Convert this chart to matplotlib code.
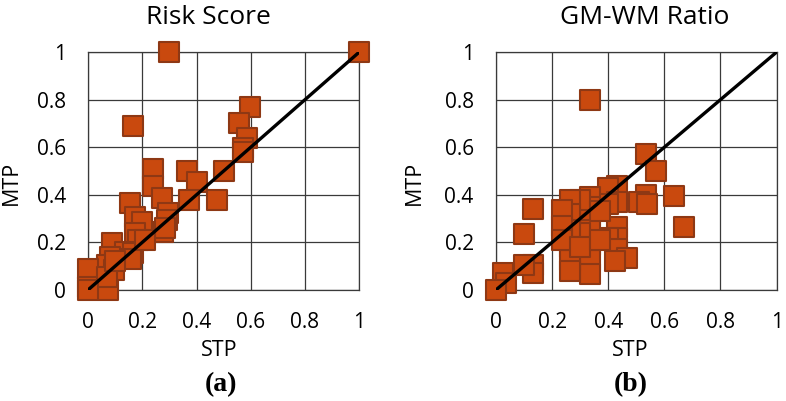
import matplotlib
matplotlib.use('Agg')
import matplotlib.pyplot as plt

# Risk Score (panel a)
risk_stp = [1.0, 0.30, 0.167, 0.598, 0.555, 0.585, 0.573, 0.57, 0.50, 0.364, 0.40, 0.374,
            0.475, 0.241, 0.241, 0.272, 0.296, 0.29, 0.278, 0.285, 0.155, 0.173, 0.198,
            0.173, 0.186, 0.087, 0.137, 0.167, 0.16, 0.081, 0.069, 0.094, 0.0, 0.0,
            0.075, 0.069, 0.0, 0.21, 0.10]
risk_mtp = [1.0, 1.0, 0.69, 0.77, 0.70, 0.637, 0.595, 0.58, 0.50, 0.50, 0.455, 0.378,
            0.38, 0.508, 0.437, 0.385, 0.322, 0.294, 0.245, 0.26, 0.364, 0.308, 0.287,
            0.24, 0.21, 0.196, 0.161, 0.154, 0.13, 0.14, 0.105, 0.084, 0.09, 0.014,
            0.0, 0.056, 0.0, 0.21, 0.12]

# GM-WM Ratio (panel b)
gm_stp = [0.335, 0.535, 0.569, 0.635, 0.67, 0.535, 0.51, 0.54, 0.433, 0.40, 0.433, 0.40,
          0.433, 0.433, 0.40, 0.433, 0.466, 0.425, 0.335, 0.335, 0.335, 0.335, 0.335,
          0.335, 0.335, 0.30, 0.30, 0.264, 0.264, 0.264, 0.264, 0.264, 0.264, 0.234,
          0.234, 0.234, 0.30, 0.37, 0.37, 0.133, 0.10, 0.133, 0.133, 0.10, 0.026,
          0.035, 0.0]
gm_mtp = [0.80, 0.571, 0.50, 0.396, 0.266, 0.40, 0.37, 0.36, 0.438, 0.43, 0.37, 0.36,
          0.266, 0.22, 0.22, 0.17, 0.133, 0.12, 0.392, 0.35, 0.31, 0.25, 0.19, 0.125,
          0.065, 0.38, 0.24, 0.378, 0.32, 0.25, 0.18, 0.125, 0.08, 0.336, 0.27, 0.21,
          0.18, 0.21, 0.33, 0.34, 0.234, 0.105, 0.07, 0.105, 0.07, 0.03, 0.0]

ticks = [0, 0.2, 0.4, 0.6, 0.8, 1]
tick_labels = ['0', '0.2', '0.4', '0.6', '0.8', '1']

fill = '#C9490E'
edge = '#8E3814'
grid_col = '#3a3a3a'
font = 'Open Sans'

fig = plt.figure(figsize=(7.86, 4.01), dpi=100)
ax_a = fig.add_axes([0.112, 0.277, 0.345, 0.593])
ax_b = fig.add_axes([0.631, 0.277, 0.357, 0.593])

panels = [(ax_a, risk_stp, risk_mtp), (ax_b, gm_stp, gm_mtp)]
for ax, xs, ys in panels:
    ax.set_xlim(0, 1)
    ax.set_ylim(0, 1)
    ax.set_xticks(ticks)
    ax.set_yticks(ticks)
    ax.set_xticklabels(tick_labels, fontsize=15, family=font)
    ax.set_yticklabels(tick_labels, fontsize=15, family=font)
    ax.tick_params(length=0)
    ax.tick_params(axis='x', pad=16)
    ax.tick_params(axis='y', pad=16)
    ax.grid(True, color=grid_col, linewidth=0.9)
    ax.set_axisbelow(True)
    for sp in ax.spines.values():
        sp.set_color(grid_col)
        sp.set_linewidth(0.9)
    ax.scatter(xs, ys, marker='s', s=190, c=fill, edgecolors=edge,
               linewidths=1.5, clip_on=False, zorder=3)
    ax.plot([0, 1], [0, 1], color='black', linewidth=2.4, zorder=4)

# titles, axis labels, subfigure labels
fig.text(208 / 786, 1 - 17 / 401, 'Risk Score', ha='center', va='center',
         fontsize=19, family=font)
fig.text(645 / 786, 1 - 17 / 401, 'GM-WM Ratio', ha='center', va='center',
         fontsize=19, family=font)
for xc in (219, 630):
    fig.text(xc / 786, 1 - 350 / 401, 'STP', ha='center', va='center',
             fontsize=15.5, family=font)
for xc in (11, 414):
    fig.text(xc / 786, 1 - 183 / 401, 'MTP', ha='center', va='center',
             rotation=90, fontsize=15.5, family=font)
fig.text(221 / 786, 1 - 385 / 401, '(a)', ha='center', va='center',
         fontsize=20, fontweight='bold', family='Liberation Serif')
fig.text(631 / 786, 1 - 385 / 401, '(b)', ha='center', va='center',
         fontsize=20, fontweight='bold', family='Liberation Serif')

fig.savefig('out.png', dpi=100)
